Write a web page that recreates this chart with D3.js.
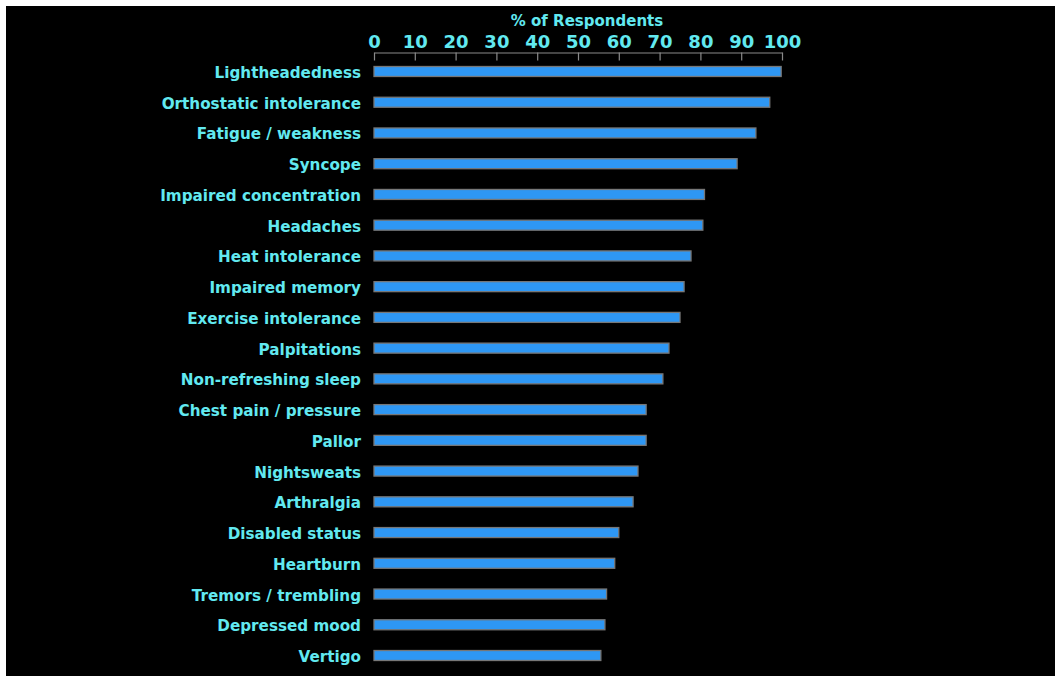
<!DOCTYPE html>
<html><head><meta charset="utf-8">
<script src="https://cdn.jsdelivr.net/npm/d3@7"></script>
<style>
html,body{margin:0;padding:0;background:#fff;}
svg{display:block;}
</style></head>
<body>
<script>
const categories = ["Lightheadedness","Orthostatic intolerance","Fatigue / weakness","Syncope","Impaired concentration","Headaches","Heat intolerance","Impaired memory","Exercise intolerance","Palpitations","Non-refreshing sleep","Chest pain / pressure","Pallor","Nightsweats","Arthralgia","Disabled status","Heartburn","Tremors / trembling","Depressed mood","Vertigo"];
const values = [99.8,97,93.6,89,81,80.6,77.7,76,75,72.3,70.8,66.7,66.7,64.7,63.5,60,59,57,56.6,55.6];
const tickValues = [0,10,20,30,40,50,60,70,80,90,100];
const axisTitle = "% of Respondents";

const W = 1055, H = 676;
const FONT = "'DejaVu Sans', sans-serif";
const TXT = "#62e9f0";
const svg = d3.select("body").append("svg").attr("width", W).attr("height", H);
svg.append("rect").attr("x",6).attr("y",6).attr("width",W-6).attr("height",H-6).attr("fill","#000");

const x = d3.scaleLinear().domain([0,100]).range([374,782]);
const y = d3.scaleBand().domain(categories).range([66.5,660.5]).paddingInner(0.675).paddingOuter(0);

// axis
const ax = svg.append("g").attr("transform","translate(0,52.5)")
  .call(d3.axisTop(x).tickValues(tickValues).tickSizeInner(-8).tickSizeOuter(0).tickPadding(5).tickFormat(d3.format("d")));
ax.select(".domain").attr("stroke","#8a8a8a").attr("stroke-width",1.2);
ax.selectAll(".tick line").attr("stroke","#8a8a8a").attr("stroke-width",1.2);
ax.selectAll(".tick text").attr("fill",TXT).attr("font-family",FONT).attr("font-size",18).attr("font-weight","bold").attr("dy","0");

svg.append("text").attr("x",(x(0)+x(100))/2+9).attr("y",26).attr("text-anchor","middle")
  .attr("fill",TXT).attr("font-family",FONT).attr("font-size",15).attr("font-weight","bold").text(axisTitle);

// bars
svg.append("g").selectAll("rect").data(categories).join("rect")
  .attr("x", x(0)).attr("y", d => y(d))
  .attr("width", (d,i) => x(values[i]) - x(0)).attr("height", y.bandwidth())
  .attr("fill","#2e97f4").attr("stroke","#777").attr("stroke-width",1.3);

// labels
svg.append("g").selectAll("text").data(categories).join("text")
  .attr("x", 361).attr("y", d => y(d) + y.bandwidth()/2 + 1).attr("dy","0.36em")
  .attr("text-anchor","end").attr("fill",TXT).attr("font-family",FONT)
  .attr("font-size",15.2).attr("font-weight","bold").text(d => d);
</script>
</body></html>
